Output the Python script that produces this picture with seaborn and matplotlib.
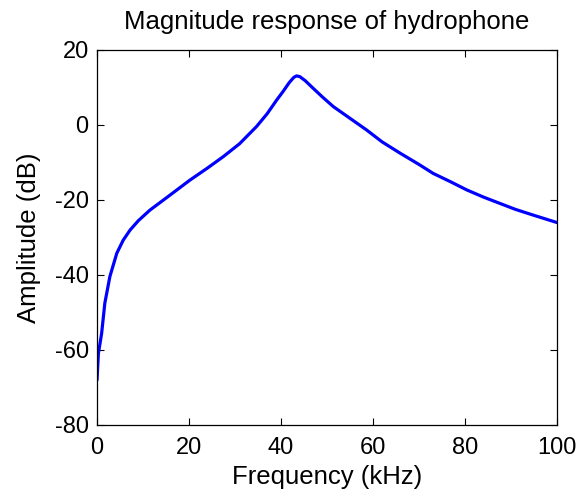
import pandas as pd
import seaborn as sns
import matplotlib
matplotlib.use("Agg")
import matplotlib.pyplot as plt

# values
freq_khz = [0, 0.3, 1.0, 1.7, 2.8, 4.3, 5.7, 7.2, 9, 11.5, 15, 20.2, 24, 27.5,
            31, 34.7, 37, 39.1, 40.5, 41.8, 42.8, 43.4, 44.1, 45.3, 47, 49,
            51.4, 55, 58.6, 62, 65.9, 70, 73.1, 77, 80.4, 84, 87.6, 91, 94.8,
            100]
amp_db = [-68, -60.9, -55.6, -47.5, -40.4, -34.2, -30.7, -28, -25.5, -22.7,
          -19.5, -14.7, -11.5, -8.4, -5, -0.4, 3, 6.7, 9.0, 11.3, 12.7, 13.1,
          12.9, 11.8, 9.8, 7.5, 4.9, 1.8, -1.3, -4.5, -7.5, -10.5, -12.9,
          -15.2, -17.3, -19.2, -20.9, -22.5, -24, -26]
x_ticks = [0, 20, 40, 60, 80, 100]
y_ticks = [-80, -60, -40, -20, 0, 20]

df = pd.DataFrame({"Frequency": freq_khz, "Amplitude": amp_db})

sns.set_style("ticks")
plt.rcParams["font.family"] = ["Liberation Sans", "DejaVu Sans"]
plt.rcParams["axes.unicode_minus"] = False
plt.rcParams["text.color"] = "black"
plt.rcParams["axes.labelcolor"] = "black"

fig = plt.figure(figsize=(5.82, 5.01), dpi=100)
ax = fig.add_axes([0.1667, 0.1517, 0.790, 0.7485])

sns.lineplot(data=df, x="Frequency", y="Amplitude", color="#0000ff",
             linewidth=2.3, sort=False, ax=ax)

ax.set_xlim(0, 100)
ax.set_ylim(-80, 20)
ax.set_xticks(x_ticks)
ax.set_yticks(y_ticks)
ax.tick_params(direction="in", length=5, width=0.8, labelsize=17,
               top=True, right=True, pad=6, colors="black")
ax.tick_params(axis="x", pad=9)
for s in ax.spines.values():
    s.set_linewidth(0.9)
    s.set_color("black")

ax.set_title("Magnitude response of hydrophone", fontsize=18.5, pad=15,
             color="black")
ax.set_xlabel("Frequency (kHz)", fontsize=18.5, labelpad=4)
ax.set_ylabel("Amplitude (dB)", fontsize=18.5, labelpad=10)

fig.savefig("out.png", dpi=100)
